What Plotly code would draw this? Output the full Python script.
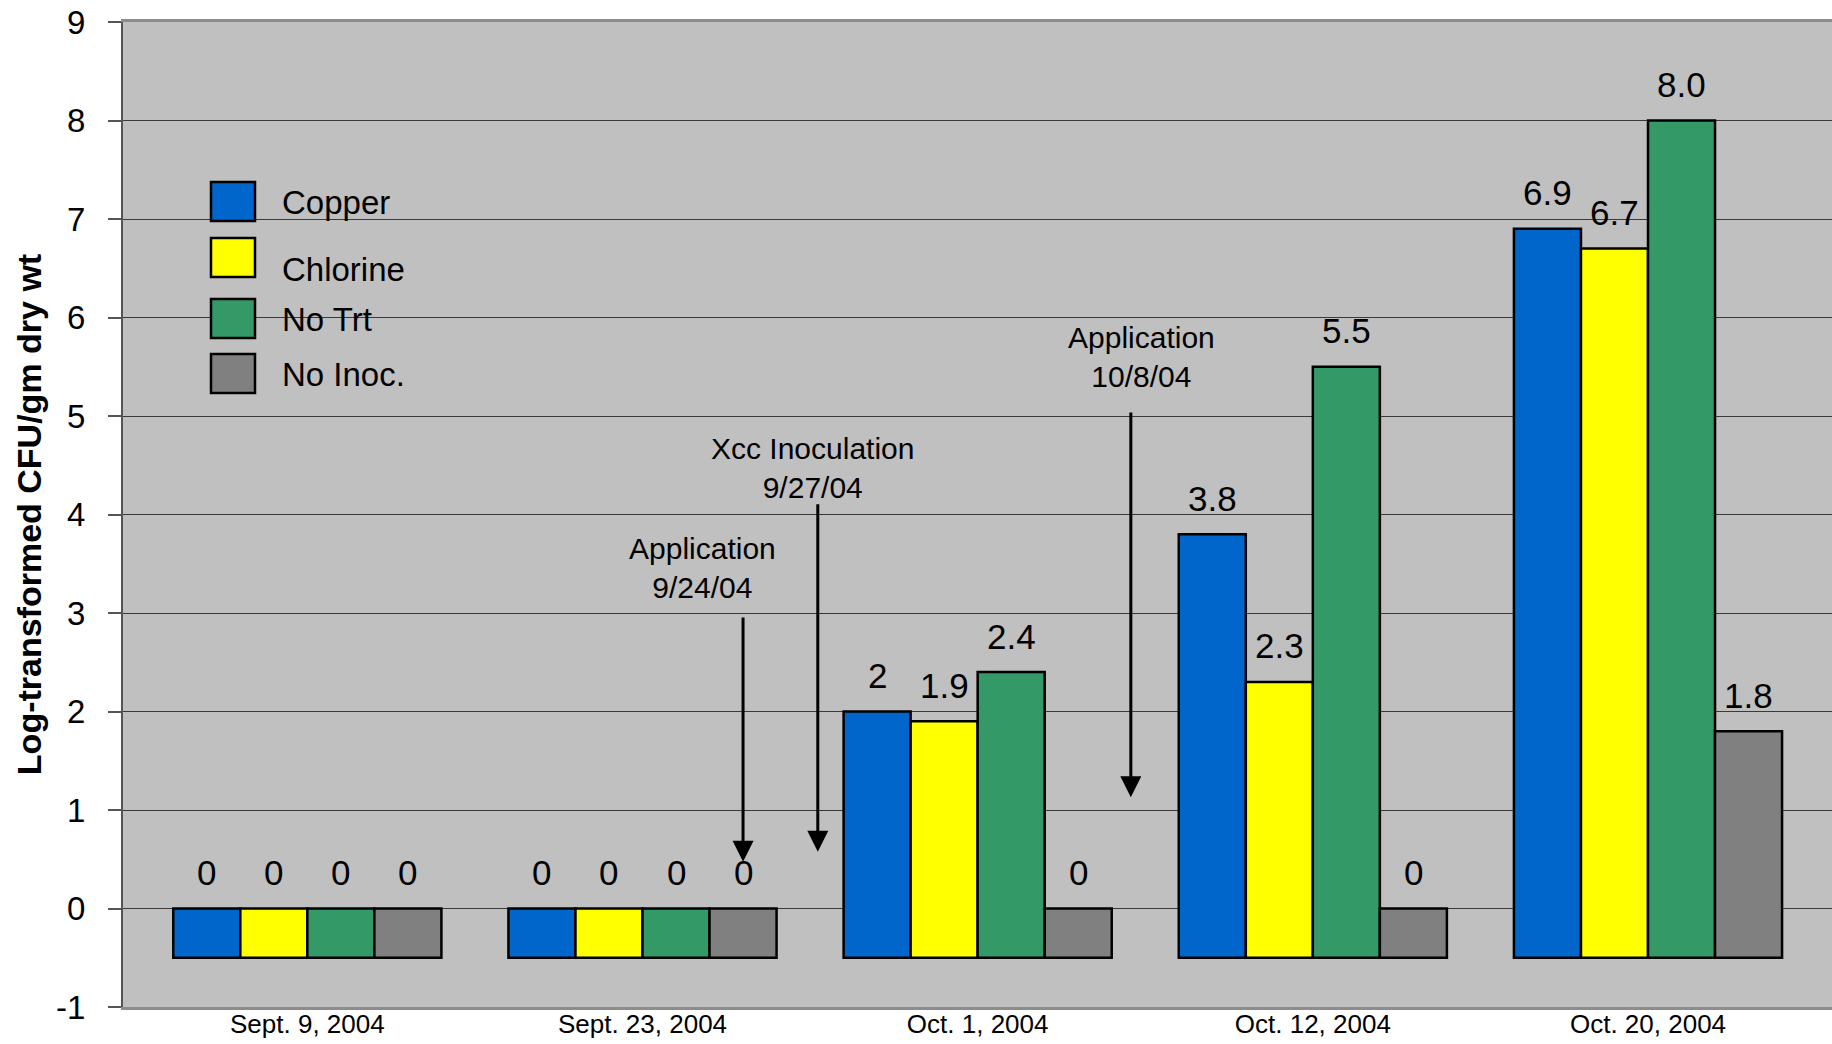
import plotly.graph_objects as go

# ---------------- data ----------------
categories = ["Sept. 9, 2004", "Sept. 23, 2004", "Oct. 1, 2004", "Oct. 12, 2004", "Oct. 20, 2004"]
series_names = ["Copper", "Chlorine", "No Trt", "No Inoc."]
copper = [0, 0, 2.0, 3.8, 6.9]
chlorine = [0, 0, 1.9, 2.3, 6.7]
no_trt = [0, 0, 2.4, 5.5, 8.0]
no_inoc = [0, 0, 0, 0, 1.8]
copper_labels = ["0", "0", "2", "3.8", "6.9"]
chlorine_labels = ["0", "0", "1.9", "2.3", "6.7"]
no_trt_labels = ["0", "0", "2.4", "5.5", "8.0"]
no_inoc_labels = ["0", "0", "0", "0", "1.8"]
y_tick_values = [-1, 0, 1, 2, 3, 4, 5, 6, 7, 8, 9]
y_tick_text = ["-1", "0", "1", "2", "3", "4", "5", "6", "7", "8", "9"]
y_title = "Log-transformed CFU/gm dry wt"

event_texts = ["Application<br>9/24/04", "Xcc Inoculation<br>9/27/04", "Application<br>10/8/04"]

# ---------------- layout / style ----------------
W, H = 1832, 1044
ML, MR, MT, MB = 123, 0, 22, 37
BASE = -0.5
BARGAP = 0.2
colors = ["#0066CC", "#FFFF00", "#339966", "#808080"]
FONT = "Liberation Sans, Arial, sans-serif"

# event annotation placement (data coordinates)
event_text_x = [1.18, 1.506, 2.488]
event_text_y = [3.46, 4.47, 5.60]
event_arrow_x = [1.30, 1.523, 2.457]
event_arrow_top = [2.97, 4.12, 5.05]
event_arrow_tip = [0.475, 0.577, 1.13]

series_vals = [copper, chlorine, no_trt, no_inoc]
series_labels = [copper_labels, chlorine_labels, no_trt_labels, no_inoc_labels]

fig = go.Figure()
xs = list(range(len(categories)))
for name, vals, col in zip(series_names, series_vals, colors):
    fig.add_trace(go.Bar(
        x=xs, y=[v - BASE for v in vals], base=BASE, name=name,
        marker=dict(color=col, line=dict(color="black", width=2.5)),
        showlegend=False,
    ))

annotations = []
n = len(series_names)
bw = (1 - BARGAP) / n
for i, (vals, labs) in enumerate(zip(series_vals, series_labels)):
    for g, (v, lab) in enumerate(zip(vals, labs)):
        annotations.append(dict(
            x=g + (i - (n - 1) / 2) * bw, y=v, xref="x", yref="y",
            text=lab, showarrow=False, yanchor="middle", yshift=36,
            font=dict(family=FONT, size=35, color="black"),
        ))

for t, tx, ty, axx, atop, atip in zip(event_texts, event_text_x, event_text_y,
                                       event_arrow_x, event_arrow_top, event_arrow_tip):
    annotations.append(dict(x=tx, y=ty, xref="x", yref="y", text=t, showarrow=False,
                            font=dict(family=FONT, size=30, color="black")))
    annotations.append(dict(x=axx, y=atip, ax=axx, ay=atop, xref="x", yref="y",
                            axref="x", ayref="y", text="", showarrow=True,
                            arrowhead=2, arrowsize=1.4, arrowwidth=3, arrowcolor="black"))

# custom legend (large swatches, as in the original)
PW, PH = W - ML - MR, H - MT - MB
def px_x(p):
    return (p - ML) / PW
def px_y(p):
    return (H - MB - p) / PH

legend_box_left, legend_box_right = 211, 255
legend_box_tops = [182, 238, 299, 354]
legend_box_h = 39
legend_text_left = 280
legend_text_y = [203, 269, 319, 374]
shapes = []
for name, col, top, ty in zip(series_names, colors, legend_box_tops, legend_text_y):
    shapes.append(dict(type="rect", xref="paper", yref="paper",
                       x0=px_x(legend_box_left), x1=px_x(legend_box_right),
                       y0=px_y(top + legend_box_h), y1=px_y(top),
                       fillcolor=col, line=dict(color="black", width=2.5)))
    annotations.append(dict(x=px_x(legend_text_left), y=px_y(ty), xref="paper", yref="paper",
                            text=name, showarrow=False, xanchor="left", yanchor="middle",
                            font=dict(family=FONT, size=33, color="black")))

fig.update_layout(
    width=W, height=H,
    margin=dict(l=ML, r=MR, t=MT, b=MB, pad=0),
    paper_bgcolor="white", plot_bgcolor="#C0C0C0",
    barmode="group", bargap=BARGAP, bargroupgap=0,
    annotations=annotations, shapes=shapes,
    showlegend=False,
    font=dict(family=FONT, color="black"),
)
fig.update_xaxes(
    range=[-0.55, 4.549], tickmode="array", tickvals=xs, ticktext=categories,
    tickfont=dict(family=FONT, size=26, color="black"),
    ticklabelstandoff=-8,
    showgrid=False, zeroline=False, ticks="",
    showline=True, linecolor="#8C8C8C", linewidth=3, mirror=True,
    automargin=False,
)
fig.update_yaxes(
    range=[-1, 9], tickmode="array", tickvals=y_tick_values, ticktext=y_tick_text,
    tickfont=dict(family=FONT, size=33, color="black"),
    showgrid=True, gridcolor="#3A3A3A", gridwidth=1,
    zeroline=False,
    ticks="outside", ticklen=13, tickcolor="#555555", tickwidth=2,
    ticklabelstandoff=16,
    showline=True, linecolor="#555555", linewidth=2,
    title=dict(text=y_title, font=dict(family=FONT, size=34, color="black", weight="bold"), standoff=4),
    automargin=False,
)

fig.write_html("out.html")
